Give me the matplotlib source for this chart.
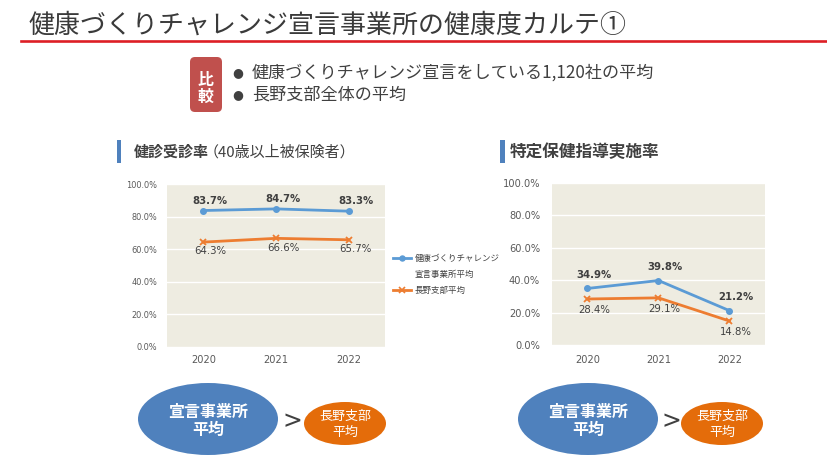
import matplotlib
matplotlib.use("Agg")
import matplotlib.pyplot as plt
from matplotlib.patches import Ellipse, FancyBboxPatch, Rectangle
from matplotlib.lines import Line2D

# ---------------- data ----------------
years = ["2020", "2021", "2022"]
left_blue = [83.7, 84.7, 83.3]      # 健康づくりチャレンジ宣言事業所平均 (健診受診率)
left_orange = [64.3, 66.6, 65.7]    # 長野支部平均 (健診受診率)
right_blue = [34.9, 39.8, 21.2]     # 健康づくりチャレンジ宣言事業所平均 (特定保健指導実施率)
right_orange = [28.4, 29.1, 14.8]   # 長野支部平均 (特定保健指導実施率)
y_ticks = [0, 20, 40, 60, 80, 100]

title = "健康づくりチャレンジ宣言事業所の健康度カルテ①"
bullets = ["健康づくりチャレンジ宣言をしている1,120社の平均", "長野支部全体の平均"]
left_head = "健診受診率"
left_head_sub = "（40歳以上被保険者）"
right_head = "特定保健指導実施率"
legend_labels = ["健康づくりチャレンジ", "宣言事業所平均", "長野支部平均"]

JP = ["Noto Sans CJK JP", "DejaVu Sans"]
NUM = ["DejaVu Sans", "Noto Sans CJK JP"]

BLUE = "#5b9bd5"
ORANGE = "#ed7d31"
BEIGE = "#eeece1"
GRAY = "#595959"
DARK = "#404040"

W, H = 828, 469
fig = plt.figure(figsize=(W / 100, H / 100), dpi=100)
fig.patch.set_facecolor("white")

# overlay axes in pixel coordinates
ov = fig.add_axes([0, 0, 1, 1], zorder=0)
ov.set_xlim(0, W)
ov.set_ylim(H, 0)
ov.axis("off")

# title and red rule
ov.text(29, 25, title, fontsize=18.7, family=JP, color="#3a3a3a", va="center", ha="left")
ov.add_line(Line2D([21, W], [40.7, 40.7], color="#dd1f26", lw=1.9))

# comparison badge
ov.add_patch(FancyBboxPatch((190, 57), 32, 55, boxstyle="round,pad=0,rounding_size=5",
                            fc="#c0504d", ec="none"))
ov.text(206, 80, "比", fontsize=11.5, family=JP, weight="bold", color="white", ha="center", va="center")
ov.text(206, 97, "較", fontsize=11.5, family=JP, weight="bold", color="white", ha="center", va="center")
for i, b in enumerate(bullets):
    yy = 73 + 22 * i
    ov.text(237.5, yy, "●", fontsize=9, family=NUM, color=DARK, ha="center", va="center")
    ov.text(252, yy, b, fontsize=12.3, family=JP, color=DARK, ha="left", va="center")

# section headings
ov.add_patch(Rectangle((117, 140), 4, 23, fc="#4f81bd", ec="none"))
ov.text(134, 152, left_head, fontsize=10.8, family=JP, weight="bold", color=DARK, ha="left", va="center")
ov.text(204, 152, left_head_sub, fontsize=10.8, family=JP, color=DARK, ha="left", va="center")
ov.add_patch(Rectangle((500, 140), 5, 23, fc="#4f81bd", ec="none"))
ov.text(510, 152, right_head, fontsize=12, family=JP, weight="bold", color=DARK, ha="left", va="center")

# legend (left chart)
ov.add_line(Line2D([393, 402, 411], [258, 258, 258], color=BLUE, lw=2, marker="o", ms=3.6, markevery=[1]))
ov.add_line(Line2D([393, 402, 411], [290, 290, 290], color=ORANGE, lw=2, marker="x", ms=4, mew=1.2, markevery=[1]))
ov.text(415, 258, legend_labels[0], fontsize=6.1, family=JP, color=DARK, ha="left", va="center")
ov.text(415, 274, legend_labels[1], fontsize=6.1, family=JP, color=DARK, ha="left", va="center")
ov.text(415, 290, legend_labels[2], fontsize=6.1, family=JP, color=DARK, ha="left", va="center")

# bottom comparison ellipses
for cx_big, cx_gt, cx_small in [(208, 292, 345), (588, 671, 722)]:
    ov.add_patch(Ellipse((cx_big, 419), 140, 72, fc="#4f81bd", ec="none"))
    ov.text(cx_big, 411.5, "宣言事業所", fontsize=11.5, family=JP, weight="bold", color="white", ha="center", va="center")
    ov.text(cx_big, 430, "平均", fontsize=11.5, family=JP, weight="bold", color="white", ha="center", va="center")
    ov.text(cx_gt, 421, ">", fontsize=17, family=NUM, color=DARK, ha="center", va="center")
    ov.add_patch(Ellipse((cx_small, 423.5), 82, 43, fc="#e46c0a", ec="none"))
    ov.text(cx_small, 416.5, "長野支部", fontsize=9.4, family=JP, color="white", ha="center", va="center")
    ov.text(cx_small, 432, "平均", fontsize=9.4, family=JP, color="white", ha="center", va="center")


def px_rect(l, t, r, b):
    return [l / W, 1 - b / H, (r - l) / W, (b - t) / H]


def chart(rect, blue, orange, ytick_fs, ypad, xpad, boff, ooff):
    ax = fig.add_axes(rect, zorder=2)
    ax.set_facecolor(BEIGE)
    x = list(range(len(years)))
    ax.plot(x, blue, color=BLUE, lw=2, marker="o", ms=4, zorder=3)
    ax.plot(x, orange, color=ORANGE, lw=2, marker="x", ms=4.5, mew=1.3, zorder=3)
    ax.set_xlim(-0.5, len(years) - 0.5)
    ax.set_ylim(0, 100)
    ax.set_yticks(y_ticks)
    ax.set_yticklabels([f"{v:.1f}%" for v in y_ticks], fontsize=ytick_fs, family=NUM, color=GRAY)
    ax.set_xticks(x)
    ax.set_xticklabels(years, fontsize=7.1, family=NUM, color=GRAY)
    ax.tick_params(axis="y", length=0, pad=ypad)
    ax.tick_params(axis="x", length=0, pad=xpad)
    ax.grid(axis="y", color="white", lw=1)
    ax.set_axisbelow(True)
    for s in ax.spines.values():
        s.set_visible(False)
    for i, v in enumerate(blue):
        ax.annotate(f"{v:.1f}%", (i, v), xytext=boff, textcoords="offset points",
                    ha="center", va="center", fontsize=7.3, weight="bold", family=NUM, color=DARK)
    for i, v in enumerate(orange):
        ax.annotate(f"{v:.1f}%", (i, v), xytext=ooff, textcoords="offset points",
                    ha="center", va="center", fontsize=7.3, family=NUM, color=DARK)
    return ax


chart(px_rect(167, 184, 385, 346.7), left_blue, left_orange, 5.9, 7.2, 6.0, (5, 7.2), (5, -6.6))
chart(px_rect(552, 183, 765, 345), right_blue, right_orange, 7.1, 8.6, 7.0, (4.5, 9.5), (4.5, -8.0))

fig.savefig("out.png", dpi=100, facecolor="white")
